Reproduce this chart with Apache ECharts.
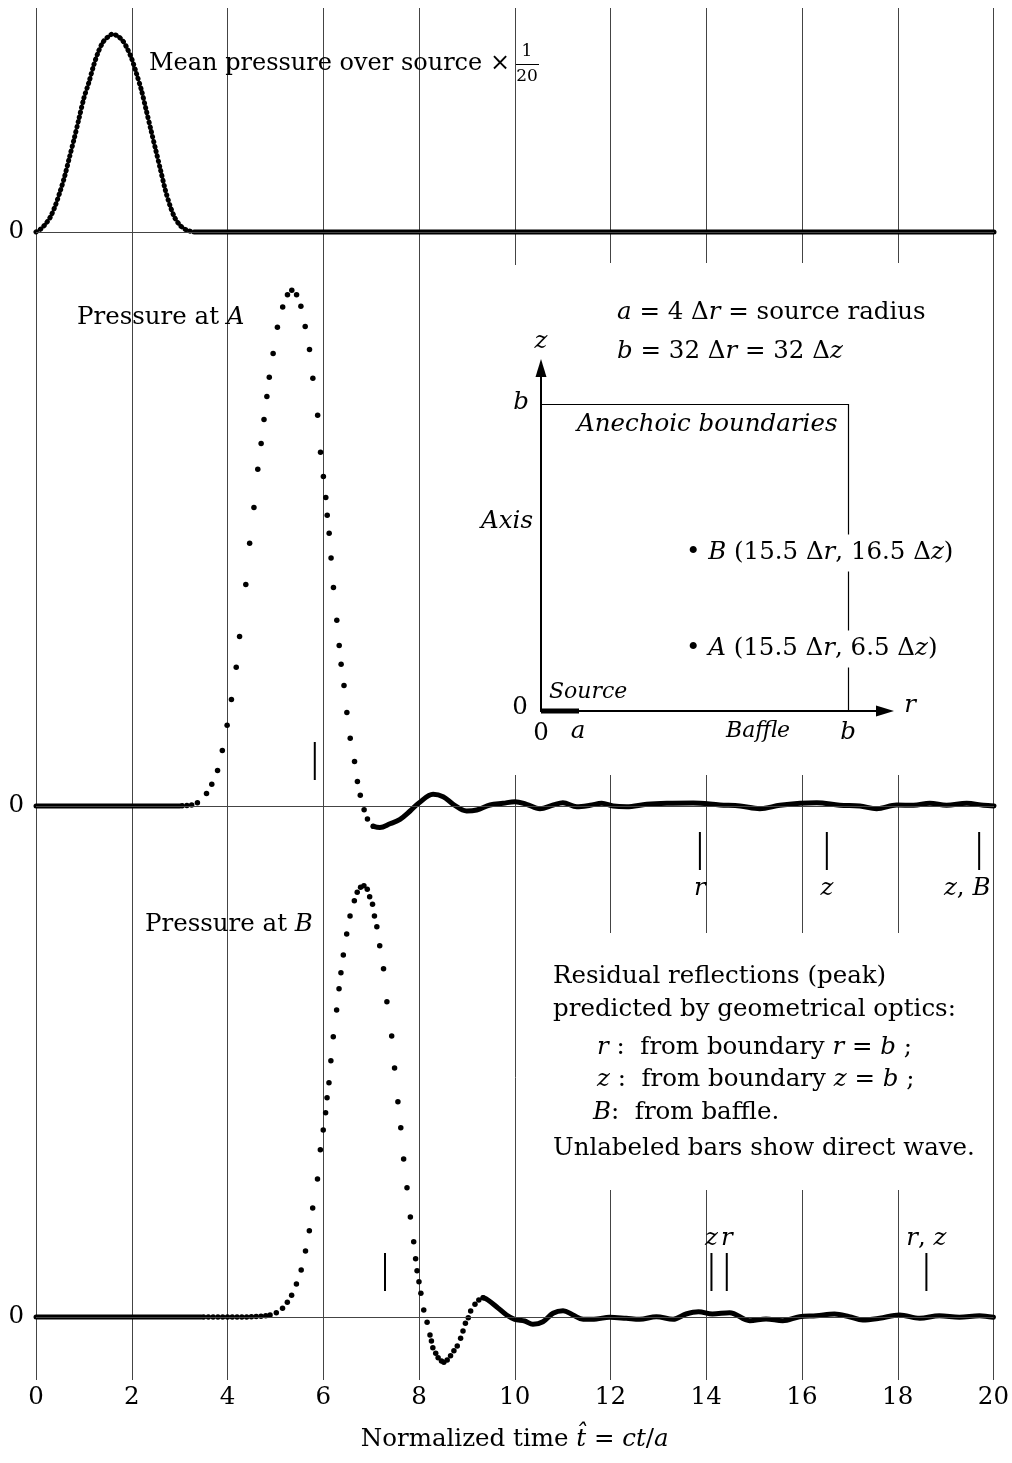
<!DOCTYPE html>
<html>
<head>
<meta charset="utf-8">
<script src="https://cdn.jsdelivr.net/npm/echarts@6/dist/echarts.min.js"></script>
<style>
  html, body { margin: 0; padding: 0; background: #fff; }
  #chart { width: 1012px; height: 1463px; }
</style>
</head>
<body>
<div id="chart"></div>
<script>
// ---------- data ----------
const tickValues = [0, 2, 4, 6, 8, 10, 12, 14, 16, 18, 20];

// Mean pressure over the source (scaled by 1/20)
const meanT = [0, 0.1, 0.2, 0.3, 0.4, 0.5, 0.6, 0.7, 0.8, 0.9, 1.0, 1.1, 1.2, 1.3, 1.4, 1.5, 1.6, 1.7,
  1.8, 1.9, 2.0, 2.1, 2.2, 2.3, 2.4, 2.5, 2.6, 2.7, 2.8, 2.9, 3.0, 3.1, 3.2, 3.3];
const meanP = [0, 0.03, 0.08, 0.15, 0.26, 0.40, 0.56, 0.75, 0.94, 1.14, 1.34, 1.49, 1.66, 1.80, 1.90, 1.95, 1.98, 1.96,
  1.92, 1.84, 1.73, 1.58, 1.42, 1.22, 1.02, 0.82, 0.62, 0.42, 0.26, 0.14, 0.07, 0.03, 0.01, 0];
const meanFlatT = [3.3, 20];
const meanFlatP = [0, 0];

// Pressure at A
const aLeadT = [0, 3.0];
const aLeadP = [0, 0];
const aDotT = [3.05, 3.15, 3.25, 3.37, 3.56, 3.67, 3.79, 3.89, 3.99, 4.08, 4.18, 4.25, 4.38, 4.46, 4.55, 4.63,
  4.70, 4.76, 4.82, 4.87, 4.95, 5.04, 5.15, 5.25, 5.34, 5.44, 5.53, 5.62, 5.71, 5.78, 5.88, 5.94, 6.00, 6.05,
  6.08, 6.12, 6.16, 6.21, 6.28, 6.33, 6.37, 6.43, 6.49, 6.56, 6.65, 6.71, 6.77, 6.85, 6.92, 7.04];
const aDotP = [0.003, 0.005, 0.01, 0.033, 0.126, 0.218, 0.355, 0.555, 0.807, 1.065, 1.387, 1.694, 2.216, 2.627, 2.986, 3.367,
  3.626, 3.866, 4.095, 4.288, 4.525, 4.787, 4.99, 5.113, 5.158, 5.113, 4.998, 4.795, 4.565, 4.277, 3.907, 3.537, 3.296, 3.085,
  2.908, 2.727, 2.479, 2.186, 1.857, 1.606, 1.417, 1.206, 0.936, 0.677, 0.444, 0.244, 0.107, -0.037, -0.129, -0.203];
const aTailT = [7.04, 7.18, 7.39, 7.60, 7.81, 8.00, 8.29, 8.50, 8.71, 8.99, 9.20, 9.48, 9.75, 10.00, 10.24, 10.52,
  10.80, 11.00, 11.29, 11.57, 11.81, 12.05, 12.33, 12.75, 13.17, 13.72, 14.28, 14.70, 15.11, 15.53, 15.95, 16.30,
  16.78, 17.20, 17.55, 17.97, 18.32, 18.66, 19.01, 19.43, 19.78, 20.00];
const aTailP = [-0.203, -0.215, -0.178, -0.133, -0.05, 0.033, 0.117, 0.093, 0.017, -0.05, -0.04, 0.01, 0.027, 0.043, 0.017, -0.027,
  0.01, 0.033, -0.007, 0.007, 0.027, 0, -0.007, 0.017, 0.027, 0.03, 0.01, 0, -0.027, 0.007, 0.027, 0.033,
  0.007, 0, -0.027, 0.01, 0.007, 0.027, 0.007, 0.027, 0.007, 0];

// Pressure at B
const bLeadT = [0, 3.45];
const bLeadP = [0, 0];
const bDotT = [3.5, 3.6, 3.7, 3.8, 3.9, 4.0, 4.1, 4.2, 4.3, 4.4, 4.5, 4.6, 4.7, 4.8, 4.89, 5.02, 5.15, 5.25, 5.34,
  5.44, 5.54, 5.63, 5.71, 5.78, 5.88, 5.94, 6.00, 6.05, 6.08, 6.12, 6.16, 6.21, 6.28, 6.33, 6.37, 6.42, 6.49,
  6.56, 6.65, 6.71, 6.78, 6.85, 6.92, 6.97, 7.03, 7.07, 7.12, 7.18, 7.26, 7.33, 7.43, 7.49, 7.56, 7.62, 7.68,
  7.75, 7.82, 7.89, 7.93, 7.96, 8.00, 8.04, 8.10, 8.17, 8.23, 8.26, 8.29, 8.35, 8.40, 8.47, 8.52, 8.59, 8.66,
  8.73, 8.80, 8.87, 8.92, 8.97, 9.03, 9.08, 9.17, 9.25, 9.34];
const bDotP = [0, 0, 0, 0, 0, 0, 0, 0, 0, 0, 0.003, 0.005, 0.008, 0.012, 0.02, 0.043, 0.087, 0.147, 0.217,
  0.33, 0.47, 0.66, 0.863, 1.09, 1.38, 1.673, 1.87, 2.043, 2.193, 2.343, 2.563, 2.803, 3.07, 3.283, 3.443, 3.62, 3.83,
  4.01, 4.163, 4.247, 4.297, 4.313, 4.277, 4.203, 4.127, 4.01, 3.903, 3.713, 3.483, 3.153, 2.81, 2.49, 2.153, 1.893, 1.58,
  1.293, 1.0, 0.753, 0.583, 0.463, 0.353, 0.237, 0.07, -0.053, -0.18, -0.24, -0.307, -0.363, -0.407, -0.44, -0.453, -0.43, -0.387,
  -0.337, -0.29, -0.213, -0.14, -0.063, -0.007, 0.06, 0.127, 0.17, 0.193];
const bTailT = [9.34, 9.44, 9.62, 9.83, 10.00, 10.21, 10.38, 10.59, 10.80, 11.01, 11.22, 11.43, 11.71, 11.98, 12.33,
  12.61, 12.96, 13.31, 13.58, 13.84, 14.13, 14.49, 14.91, 15.25, 15.60, 15.95, 16.30, 16.68, 16.99, 17.27, 17.62,
  18.04, 18.46, 18.87, 19.29, 19.71, 20.00];
const bTailP = [0.193, 0.17, 0.103, 0.02, -0.023, -0.04, -0.073, -0.047, 0.037, 0.063, 0.02, -0.023, -0.02, -0.003, -0.013,
  -0.023, 0.003, -0.023, 0.03, 0.053, 0.03, 0.043, -0.037, -0.02, -0.037, 0.003, 0.013, 0.03, 0.003, -0.03, -0.013,
  0.02, -0.013, 0.013, -0.003, 0.013, -0.003];

// Predicted peak arrival times (direct wave and residual reflections)
const aDirectT = [5.82];
const aReflT = [13.86, 16.51, 19.69];
const aReflLabels = ['r', 'z', 'z, B'];
const bDirectT = [7.29];
const bReflT = [14.11, 14.43, 18.60];
const bReflLabels = ['z', 'r', 'r, z'];

// ---------- styling / layout ----------
const FONT = 'DejaVu Serif';
const FS = 24.5;
const INK = '#000';
const GRID_INK = '#444';
const BAR_UP = 0.45;     // centre of the marker bars drawn above a baseline
const BAR_DOWN = -0.45;  // centre of the marker bars drawn below a baseline
const LABEL_SHIFT = { 'z, B': -12 };

const zip = (xs, ys) => xs.map((x, i) => [x, ys[i]]);
const mathRich = s => s.split('').map(ch => /[A-Za-z]/.test(ch) ? '{i|' + ch + '}' : '{r|' + ch + '}').join('');

const richStyles = (size, colorKey) => ({
  r: { fontFamily: FONT, fontSize: size, [colorKey]: INK },
  i: { fontFamily: FONT, fontSize: size, fontStyle: 'italic', [colorKey]: INK }
});

const grids = [
  { left: 36, right: 18, top: 8, height: 254 },
  { left: 36, right: 18, top: 262, height: 618 },
  { left: 36, right: 18, top: 862, height: 518 }
];
const yRanges = [[-0.30, 2.24], [-0.74, 5.44], [-0.63, 4.55]];

const xAxes = grids.map((g, i) => ({
  type: 'value', gridIndex: i, min: 0, max: 20, interval: 2,
  axisLine: { show: false }, axisTick: { show: false }, splitLine: { show: false },
  axisLabel: { show: i === 2, fontFamily: FONT, fontSize: FS, color: INK, margin: 5 },
  name: i === 2 ? '{r|Normalized time }{i|t\u0302}{r| = }{i|ct}{r|/}{i|a}' : '',
  nameLocation: 'middle', nameGap: 47,
  nameTextStyle: { fontFamily: FONT, fontSize: FS, color: INK, rich: richStyles(FS, 'color') }
}));
const yAxes = yRanges.map((r, i) => ({
  type: 'value', gridIndex: i, min: r[0], max: r[1],
  axisLine: { show: false }, axisTick: { show: false }, splitLine: { show: false },
  axisLabel: { customValues: [0], fontFamily: FONT, fontSize: FS, color: INK, margin: 12 }
}));

const baseline = {
  silent: true, symbol: ['none', 'none'], label: { show: false },
  lineStyle: { color: GRID_INK, width: 1, type: 'solid', opacity: 1 },
  data: [{ yAxis: 0 }]
};

const solidLine = (gi, data, extra) => Object.assign({
  type: 'line', xAxisIndex: gi, yAxisIndex: gi, data, showSymbol: false, smooth: 0.35,
  lineStyle: { color: INK, width: 5, cap: 'round', join: 'round' }, silent: true, z: 3
}, extra || {});

const dots = (gi, data) => ({
  type: 'scatter', xAxisIndex: gi, yAxisIndex: gi, data, symbolSize: 5.5,
  itemStyle: { color: INK, opacity: 1 }, silent: true, z: 4
});

const bars = (gi, times, labels, yc, pos) => ({
  type: 'scatter', xAxisIndex: gi, yAxisIndex: gi, symbol: 'rect', symbolSize: [2, 38],
  itemStyle: { color: INK, opacity: 1 }, silent: true, z: 4,
  data: times.map((t, k) => ({
    value: [t, yc],
    label: labels ? {
      show: true, position: pos, distance: pos === 'bottom' ? 6 : 2,
      offset: [LABEL_SHIFT[labels[k]] || 0, 0],
      formatter: mathRich(labels[k]), rich: richStyles(FS, 'color')
    } : { show: false }
  }))
});

const series = [
  // mean pressure over the source
  solidLine(0, zip(meanFlatT, meanFlatP), { smooth: false, markLine: baseline }),
  solidLine(0, zip(meanT, meanP), {
    lineStyle: { color: INK, width: 5, cap: 'round', type: [0.5, 4.5] }, smooth: 0.3
  }),
  // pressure at A
  solidLine(1, zip(aLeadT, aLeadP), { smooth: false, markLine: baseline }),
  dots(1, zip(aDotT, aDotP)),
  solidLine(1, zip(aTailT, aTailP)),
  bars(1, aDirectT, null, BAR_UP, 'top'),
  bars(1, aReflT, aReflLabels, BAR_DOWN, 'bottom'),
  // pressure at B
  solidLine(2, zip(bLeadT, bLeadP), { smooth: false, markLine: baseline }),
  dots(2, zip(bDotT, bDotP)),
  solidLine(2, zip(bTailT, bTailP)),
  bars(2, bDirectT, null, BAR_UP, 'top'),
  bars(2, bReflT, bReflLabels, BAR_UP, 'top')
];

const chart = echarts.init(document.getElementById('chart'), null, { renderer: 'canvas' });
chart.setOption({
  animation: false,
  backgroundColor: '#fff',
  grid: grids,
  xAxis: xAxes,
  yAxis: yAxes,
  series
});

// ---------- annotations ----------
function txt(text, x, y, opt) {
  opt = opt || {};
  const size = opt.size || FS;
  const st = {
    text, x: 0, y: 0, fill: INK, fontFamily: FONT, fontSize: size,
    fontStyle: opt.italic ? 'italic' : 'normal',
    align: opt.align || 'left', textAlign: opt.align || 'left',
    verticalAlign: 'middle', textVerticalAlign: 'middle',
    rich: richStyles(size, 'fill')
  };
  if (opt.bg) { st.backgroundColor = '#fff'; st.padding = opt.bg; }
  return { type: 'text', x, y, z: opt.z || 20, silent: true, style: st };
}
function seg(x1, y1, x2, y2, w, color, z) {
  return { type: 'line', silent: true, z: z || 1,
    shape: { x1, y1, x2, y2 }, style: { stroke: color || INK, lineWidth: w || 1 } };
}
function tri(points) {
  return { type: 'polygon', silent: true, z: 12, shape: { points }, style: { fill: INK } };
}

// vertical grid lines, interrupted around the annotations
const GRID_SPANS = {
  full: [[8, 1380]],
  mid: [[8, 265], [775, 1380]],
  right: [[8, 263], [775, 933], [1190, 1380]]
};
const spanFor = t => (t <= 8 || t === 20) ? GRID_SPANS.full : (t === 10 ? GRID_SPANS.mid : GRID_SPANS.right);

const graphics = [];
tickValues.forEach(t => {
  const x = Math.round(chart.convertToPixel({ xAxisIndex: 2 }, t)) + 0.5;
  spanFor(t).forEach(s => graphics.push(seg(x, s[0], x, s[1], 1, GRID_INK, 0)));
});

// trace captions
graphics.push(txt('Mean pressure over source ×', 510, 64, { align: 'right', size: 24 }));
graphics.push(txt('1', 527, 52, { size: 17, align: 'center' }));
graphics.push(seg(516, 64.5, 539, 64.5, 1, INK, 20));
graphics.push(txt('20', 527, 77, { size: 17, align: 'center' }));
graphics.push(txt('{r|Pressure at }{i|A}', 77, 318));
graphics.push(txt('{r|Pressure at }{i|B}', 145, 925));

// geometry sketch
graphics.push(txt('{i|a}{r| = 4 Δ}{i|r}{r| = source radius}', 617, 313));
graphics.push(txt('{i|b}{r| = 32 Δ}{i|r}{r| = 32 Δ}{i|z}', 617, 352));
graphics.push(seg(541, 712, 541, 372, 2, INK, 10));
graphics.push(tri([[541, 359], [535.5, 377], [546.5, 377]]));
graphics.push(seg(540, 711, 880, 711, 2, INK, 10));
graphics.push(tri([[894, 711], [876, 705.5], [876, 716.5]]));
graphics.push(seg(541, 711, 579, 711, 5, INK, 11));
graphics.push(seg(541, 404.5, 848.5, 404.5, 1.2, INK, 10));
graphics.push(seg(848.5, 404, 848.5, 711, 1.2, INK, 10));
graphics.push(txt('z', 541, 342, { italic: true, align: 'center' }));
graphics.push(txt('b', 521, 403, { italic: true, align: 'center' }));
graphics.push(txt('Anechoic boundaries', 577, 425, { italic: true }));
graphics.push(txt('Axis', 533, 522, { italic: true, align: 'right' }));
graphics.push(txt('{r|• }{i|B}{r| (15.5 Δ}{i|r}{r|, 16.5 Δ}{i|z}{r|)}', 684, 553, { bg: [6, 2] }));
graphics.push(txt('{r|• }{i|A}{r| (15.5 Δ}{i|r}{r|, 6.5 Δ}{i|z}{r|)}', 684, 649, { bg: [6, 2] }));
graphics.push(txt('Source', 549, 692, { italic: true, size: 22 }));
graphics.push(txt('0', 520, 708, { align: 'center' }));
graphics.push(txt('r', 910, 706, { italic: true, align: 'center' }));
graphics.push(txt('0', 541, 734, { align: 'center' }));
graphics.push(txt('a', 578, 732, { italic: true, align: 'center' }));
graphics.push(txt('Baffle', 758, 731, { italic: true, size: 22, align: 'center' }));
graphics.push(txt('b', 848, 733, { italic: true, align: 'center' }));

// legend text for the marker bars
graphics.push(txt('Residual reflections (peak)', 553, 977));
graphics.push(txt('predicted by geometrical optics:', 553, 1010));
graphics.push(txt('{i|r}{r| :  from boundary }{i|r}{r| = }{i|b}{r| ;}', 597, 1048));
graphics.push(txt('{i|z}{r| :  from boundary }{i|z}{r| = }{i|b}{r| ;}', 597, 1080));
graphics.push(txt('{i|B}{r|:  from baffle.}', 593, 1113));
graphics.push(txt('Unlabeled bars show direct wave.', 553, 1149));

chart.setOption({ graphic: { elements: graphics } });
</script>
</body>
</html>
